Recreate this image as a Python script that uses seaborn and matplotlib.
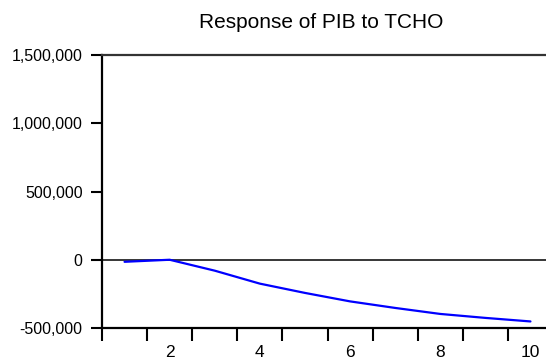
import matplotlib
matplotlib.use("Agg")
import matplotlib.pyplot as plt
import seaborn as sns
import pandas as pd
from matplotlib.ticker import FuncFormatter, FixedLocator

periods = [1, 2, 3, 4, 5, 6, 7, 8, 9, 10]
response = [-15000, 0, -80000, -175000, -243000, -305000, -353000, -397000, -426000, -452000]
title = "Response of PIB to TCHO"
y_ticks = [-500000, 0, 500000, 1000000, 1500000]
x_labels = [2, 4, 6, 8, 10]

sns.set_style("white")
plt.rcParams['font.family'] = ['Liberation Sans', 'DejaVu Sans']

df = pd.DataFrame({"period": periods, "response": response})

fig = plt.figure(figsize=(5.46, 3.63), dpi=100)
ax = fig.add_axes([102/546, 35/363, 451/546, 273/363])

ax.axhline(0, color="black", lw=1.1, zorder=1)
sns.lineplot(data=df, x="period", y="response", color="#0000ff", lw=1.6, ax=ax, zorder=3)

ax.set_xlim(0.5, 10.5)
ax.set_ylim(-500000, 1500000)
ax.set_yticks(y_ticks)
ax.yaxis.set_major_formatter(FuncFormatter(lambda v, p: f"{int(v):,}"))
ax.set_xticks(x_labels)
ax.set_xticklabels([str(v) for v in x_labels])
ax.xaxis.set_minor_locator(FixedLocator([p - 0.5 for p in periods]))

ax.tick_params(axis="x", which="major", length=0, pad=12, labelsize=12.5, colors="black")
ax.tick_params(axis="x", which="minor", length=9, width=1.5, color="black", direction="out", bottom=True)
ax.tick_params(axis="y", which="major", length=8, width=1.5, color="black", direction="out", left=True, pad=6, labelsize=11.5, labelcolor="black")

for side in ["left", "bottom", "top"]:
    ax.spines[side].set_visible(True)
    ax.spines[side].set_color("black")
    ax.spines[side].set_linewidth(1.6)
ax.spines["top"].set_color("#333333")
ax.spines["right"].set_visible(False)

ax.set_xlabel("")
ax.set_ylabel("")
fig.text(0.588, 0.937, title, ha="center", va="center", fontsize=15, color="black")

fig.savefig("out.png", dpi=100)
